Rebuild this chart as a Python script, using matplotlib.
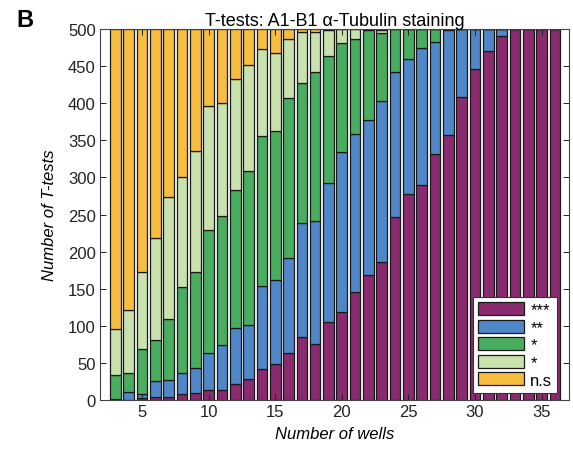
import numpy as np
import matplotlib
matplotlib.use("Agg")
import matplotlib.pyplot as plt

plt.rcParams['font.family'] = ['Liberation Sans', 'DejaVu Sans']

# number of wells (x axis)
wells = list(range(3, 37))

# counts of t-tests per significance class (stacked bottom -> top)
n_3star = [0, 0, 3, 4, 4, 8, 9, 14, 13, 22, 28, 42, 48, 64, 85, 75, 105, 119,
           146, 168, 186, 246, 277, 290, 331, 357, 409, 446, 471, 491, 500, 500, 500, 500]
n_2star = [2, 11, 5, 22, 23, 29, 34, 49, 61, 75, 73, 112, 114, 127, 153, 166, 188, 215,
           212, 209, 217, 196, 183, 185, 152, 141, 91, 54, 29, 9, 0, 0, 0, 0]
n_1star = [32, 25, 61, 55, 82, 115, 130, 166, 174, 186, 207, 202, 200, 216, 189, 201, 171, 147,
           128, 121, 92, 58, 40, 25, 17, 2, 0, 0, 0, 0, 0, 0, 0, 0]
n_1star_b = [62, 85, 103, 137, 164, 149, 162, 167, 152, 150, 143, 117, 105, 80, 69, 54, 35, 19,
             14, 2, 4, 0, 0, 0, 0, 0, 0, 0, 0, 0, 0, 0, 0, 0]
n_ns = [404, 379, 328, 282, 227, 199, 165, 104, 100, 67, 49, 27, 33, 13, 4, 4, 1, 0,
        0, 0, 1, 0, 0, 0, 0, 0, 0, 0, 0, 0, 0, 0, 0, 0]

labels = ['***', '**', '*', '*', 'n.s']
colors = ['#8a2b70', '#4f87c8', '#49ad60', '#c9e2ad', '#f6bd3f']

fig = plt.figure(figsize=(5.73, 4.52), dpi=100)
ax = fig.add_axes([0.1745, 0.1128, 0.8185, 0.8208])

series = [n_3star, n_2star, n_1star, n_1star_b, n_ns]
bottom = np.zeros(len(wells))
handles = []
for vals, lab, col in zip(series, labels, colors):
    b = ax.bar(wells, vals, width=0.8, bottom=bottom, color=col,
               edgecolor='#1a1a1a', linewidth=0.9, label=lab)
    handles.append(b)
    bottom += np.array(vals)

ax.set_xlim(1.85, 37.05)
ax.set_ylim(0, 500)
ax.set_xticks([5, 10, 15, 20, 25, 30, 35])
ax.set_yticks(range(0, 501, 50))
ax.tick_params(direction='in', top=True, right=True, labelsize=12, length=4,
               width=0.7, colors='#222222', pad=3)
for s in ax.spines.values():
    s.set_color('#444444')
    s.set_linewidth(0.8)

ax.set_title('T-tests: A1-B1 α-Tubulin staining', fontsize=13, pad=3)
ax.set_xlabel('Number of wells', fontsize=12, style='italic', labelpad=5)
ax.set_ylabel('Number of T-tests', fontsize=12, style='italic', labelpad=8)

leg = ax.legend(handles=handles, labels=labels, loc='lower right',
                bbox_to_anchor=(0.975, 0.02), fontsize=12, handlelength=2.75,
                handleheight=0.8, labelspacing=0.14, handletextpad=0.4,
                borderpad=0.3, borderaxespad=0.0, fancybox=False,
                framealpha=1, edgecolor='#333333')
leg.get_frame().set_linewidth(0.8)

fig.text(0.028, 0.94, 'B', fontsize=17, fontweight='bold')

fig.savefig('out.png', dpi=100)
